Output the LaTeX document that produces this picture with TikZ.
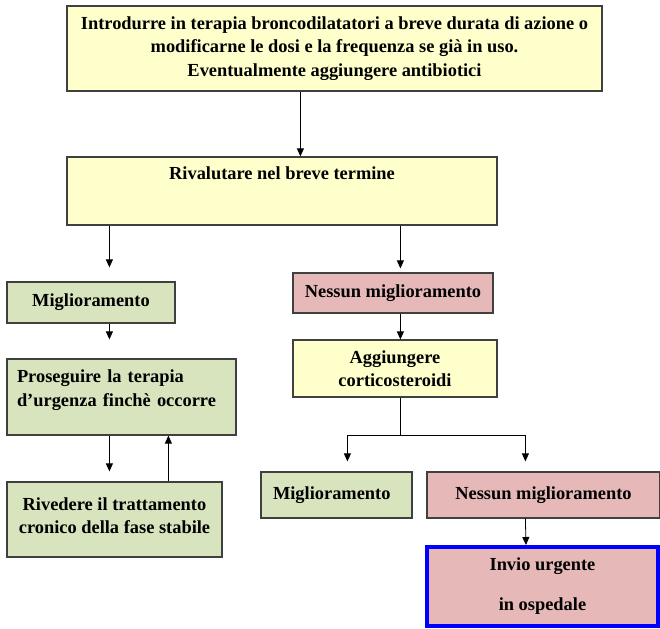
\documentclass[tikz,border=0pt]{standalone}
\usepackage{fontspec}
\setmainfont{Liberation Serif}
\usetikzlibrary{arrows.meta}
\definecolor{yy}{RGB}{255, 255, 204}
\definecolor{gg}{RGB}{215, 228, 189}
\definecolor{pp}{RGB}{230, 185, 184}
\definecolor{bb}{RGB}{0, 0, 255}
\begin{document}
\begin{tikzpicture}[x=1pt, y=1pt,
  box/.style={rectangle, draw=black!75, line width=1.2pt, inner sep=0pt, align=center,
    font=\bfseries\fontsize{18.4}{23.5}\selectfont},
  arr/.style={-{Triangle[length=8pt, width=7pt]}, line width=0.8pt, color=black}]
\useasboundingbox (0,0) rectangle (660,-628);
\node (1) [box, fill=yy, minimum width=535pt, minimum height=85pt] at (334.5, -48.5)
  {Introdurre in terapia broncodilatatori a breve durata di azione o\\
   modificarne le dosi e la frequenza se già in uso.\\
   Eventualmente aggiungere antibiotici};
\node (2) [box, fill=yy, minimum width=430pt, text height=23pt, text depth=45pt] at (282, -191)
  {Rivalutare nel breve termine};
\node (3) [box, fill=gg, minimum width=168pt, minimum height=41pt] at (91, -302.5) {Miglioramento};
\node (4) [box, fill=pp, minimum width=200pt, minimum height=40pt] at (393, -293) {Nessun miglioramento};
\node (5) [box, fill=yy, minimum width=204pt, minimum height=57pt] at (395, -368.5)
  {Aggiungere\\corticosteroidi};
\node (6) [box, fill=gg, minimum width=229pt, minimum height=76pt, align=left, inner xsep=10pt,
  text width=209pt] at (121.5, -397)
  {Proseguire la terapia\\d’urgenza finchè occorre\\[-6pt]\mbox{}};
\node (7) [box, fill=gg, minimum width=215pt, minimum height=75pt] at (114.5, -519.5)
  {Rivedere il trattamento\\cronico della fase stabile\\[-16pt]\mbox{}};
\node (8) [box, fill=gg, minimum width=151pt, minimum height=46pt, align=left, inner xsep=12pt,
  text width=127pt] at (336.5, -495) {Miglioramento};
\node (9) [box, fill=pp, minimum width=233pt, minimum height=46pt] at (543.5, -495) {Nessun miglioramento};
\node (10) [box, fill=pp, draw=bb, line width=4pt, minimum width=231pt, minimum height=79pt] at (542.5, -586.5)
  {Invio urgente\\[16.5pt]in ospedale};
\draw [arr] ([xshift=234pt]1.south west) -- ([xshift=234pt]2.north west);
\draw [arr, shorten >=14pt] ([xshift=43pt]2.south west) -- ([xshift=103pt]3.north west);
\draw [arr, shorten >=4pt] ([xshift=334pt]2.south west) -- ([xshift=108pt]4.north west);
\draw [arr, shorten >=19pt] ([xshift=103pt]3.south west) -- ([xshift=103pt]6.north west);
\draw [arr] ([xshift=108pt]4.south west) -- ([xshift=108pt]5.north west);
\draw [line width=0.8pt] ([xshift=108pt]5.south west) -- ++(0,-38) coordinate (j);
\draw [arr, shorten >=10pt] (j) -| ([xshift=87pt]8.north west);
\draw [arr, shorten >=10pt] (j) -| ([xshift=99pt]9.north west);
\draw [arr, shorten >=10pt] ([xshift=103pt]6.south west) -- ([xshift=103pt]7.north west);
\draw [arr] ([xshift=162pt]7.north west) -- ([xshift=162pt]6.south west);
\draw [arr] ([xshift=99pt]9.south west) -- ([xshift=101pt]10.north west);
\end{tikzpicture}
\end{document}
